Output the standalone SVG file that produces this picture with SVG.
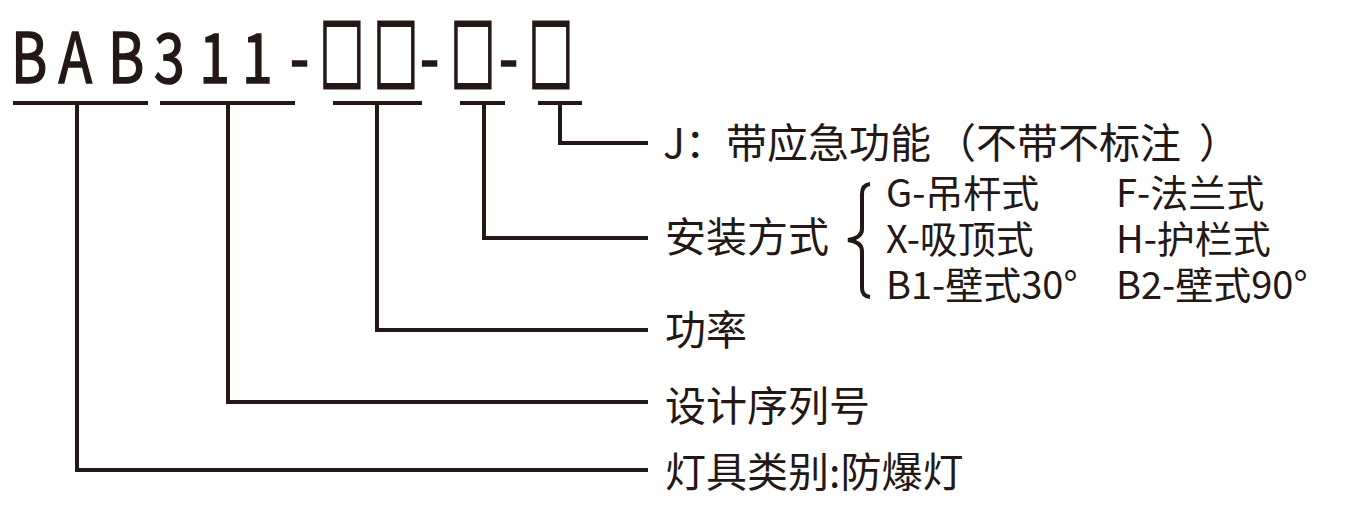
<svg xmlns="http://www.w3.org/2000/svg" width="1358" height="515" viewBox="0 0 1358 515">
<style>
.ln{fill:none;stroke:#231815;stroke-width:4;stroke-linecap:butt;stroke-linejoin:miter}
.t{font-family:"Noto Sans CJK SC","Noto Sans",sans-serif;fill:#231815}
.lab{font-size:41px}
.opt{font-size:38px}
.ttl{font-size:69px;stroke:#231815;stroke-width:1.6}
.box{font-size:64px;font-weight:700;stroke:#231815;stroke-width:2.2}
</style>
<rect width="1358" height="515" fill="#ffffff"/>
<g id="title">
<g transform="scale(0.8,1)">
<text class="t ttl" x="13.75 73 135 192.5 249 302.5 362.5" y="83">BAB311-</text>
<text class="t ttl" x="525 623.75" y="83">--</text>
</g>
<g transform="translate(0,83) scale(0.7,1.28)">
<text class="t box" x="456.4 533.6 643.6 755" y="2">□□□□</text>
</g>
</g>
<g id="connectors">
<path class="ln" d="M13,103H148M160,103H295M333,103H422M460,103H505M538,103H582"/>
<path class="ln" d="M77,103V470H648"/>
<path class="ln" d="M228,103V402H648"/>
<path class="ln" d="M377,103V330H648"/>
<path class="ln" d="M484,103V238H648"/>
<path class="ln" d="M560,103V143H648"/>
<path class="ln" d="M870,184Q862,185 862,194V229Q862,238 848,240Q862,242 862,251V288Q862,296 870,297"/>
</g>
<g id="node-emergency"><text class="t lab" x="663" y="158">J：带应急功能<tspan dx="4">（</tspan>不带不标注<tspan dx="18">）</tspan></text></g>
<g id="node-install"><text class="t lab" x="665" y="252">安装方式</text></g>
<g id="node-options">
<text class="t opt" x="886" y="207">G-吊杆式</text>
<text class="t opt" x="1116" y="207">F-法兰式</text>
<text class="t opt" x="886" y="253">X-吸顶式</text>
<text class="t opt" x="1116" y="253">H-护栏式</text>
<text class="t opt" x="886" y="299">B1-壁式30°</text>
<text class="t opt" x="1116" y="299">B2-壁式90°</text>
</g>
<g id="node-power"><text class="t lab" x="665" y="345">功率</text></g>
<g id="node-series"><text class="t lab" x="665" y="421">设计序列号</text></g>
<g id="node-category"><text class="t lab" x="665" y="487">灯具类别:防爆灯</text></g>
</svg>
